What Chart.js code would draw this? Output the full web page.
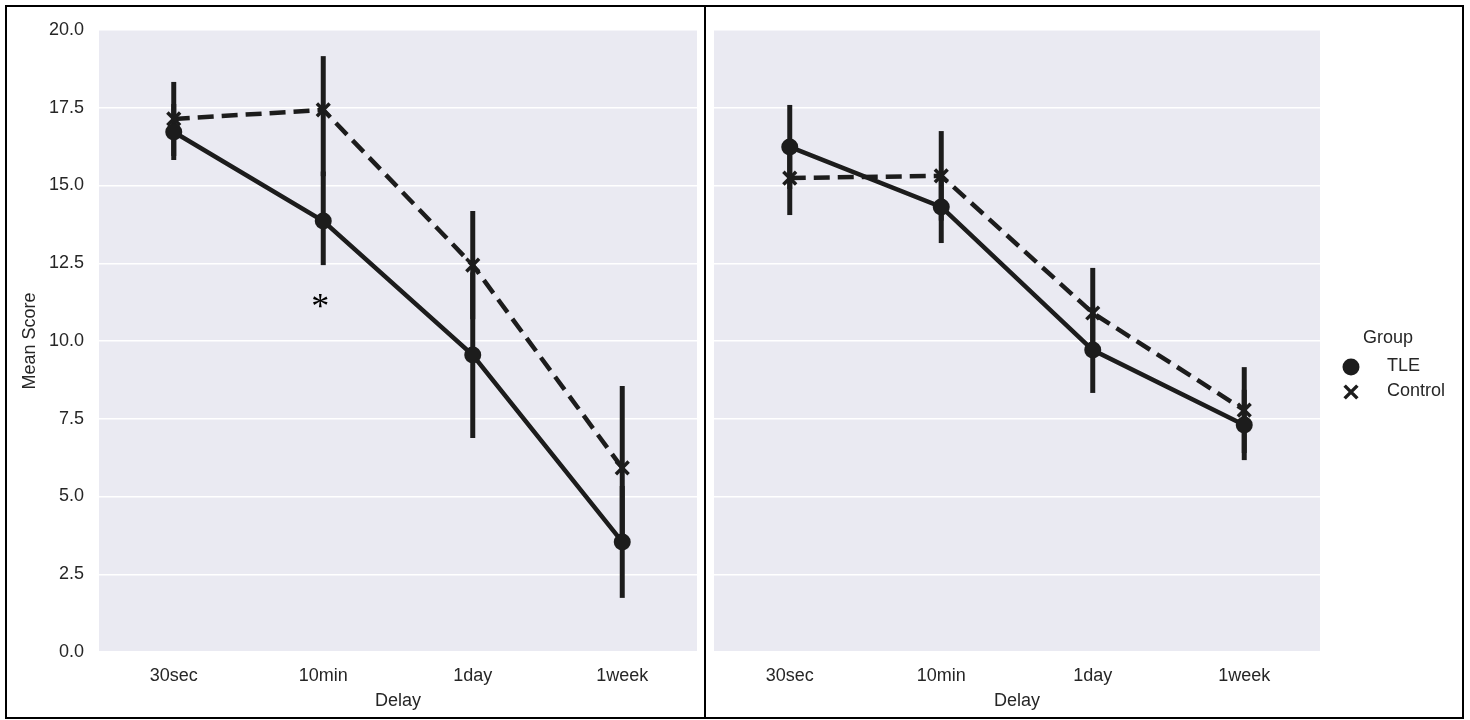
<!DOCTYPE html>
<html>
<head>
<meta charset="utf-8">
<script src="https://cdn.jsdelivr.net/npm/chart.js@4.4.0/dist/chart.umd.min.js"></script>
<style>
  html, body { margin: 0; padding: 0; background: #fff; }
  body { width: 1470px; height: 720px; position: relative; overflow: hidden; }
  #frame { position: absolute; left: 5px; top: 5px; width: 1455px; height: 710px; border: 2px solid #000; }
  #divider { position: absolute; left: 704px; top: 5px; width: 2px; height: 714px; background: #000; }
  #left { position: absolute; left: 8px; top: 8px; width: 696px; height: 708px; }
  #right { position: absolute; left: 707px; top: 8px; width: 754px; height: 708px; }
</style>
</head>
<body>
<div id="frame"></div>
<div id="divider"></div>
<canvas id="left" width="696" height="708"></canvas>
<canvas id="right" width="754" height="708"></canvas>
<script>
// categories and y axis
const delays = ['30sec', '10min', '1day', '1week'];
const yMin = 0, yMax = 20, yStep = 2.5;

// left panel: means and CI ends
const leftTLE      = [16.72, 13.86, 9.55, 3.54];
const leftTLELow   = [15.82, 12.44, 6.88, 1.74];
const leftTLEHigh  = [17.62, 15.45, 12.20, 5.34];
const leftCtrl     = [17.14, 17.43, 12.44, 5.92];
const leftCtrlLow  = [15.95, 15.30, 10.70, 3.29];
const leftCtrlHigh = [18.33, 19.16, 14.18, 8.55];

// right panel
const rightTLE      = [16.24, 14.31, 9.71, 7.30];
const rightTLELow   = [14.89, 13.15, 8.33, 6.17];
const rightTLEHigh  = [17.59, 15.47, 11.09, 8.43];
const rightCtrl     = [15.24, 15.31, 10.90, 7.78];
const rightCtrlLow  = [14.05, 13.87, 9.45, 6.40];
const rightCtrlHigh = [16.43, 16.75, 12.35, 9.16];

const groups = ['TLE', 'Control'];
const starCategory = 1, starValue = 11.3;

const ink = '#1c1c1c';
const txt = '#262626';
const font = 'Liberation Sans, Arial, sans-serif';

const bgPlugin = {
  id: 'bg',
  beforeDraw(chart) {
    const { ctx, chartArea: a } = chart;
    ctx.save();
    ctx.fillStyle = '#EAEAF2';
    ctx.fillRect(a.left, a.top, a.right - a.left, a.bottom - a.top);
    ctx.restore();
  }
};

const errPlugin = {
  id: 'err',
  beforeDatasetsDraw(chart, args, opts) {
    const { ctx, scales: { x, y } } = chart;
    ctx.save();
    ctx.strokeStyle = ink;
    ctx.lineWidth = 5;
    opts.bars.forEach(([lo, hi]) => {
      lo.forEach((v, i) => {
        const px = x.getPixelForValue(i);
        ctx.beginPath();
        ctx.moveTo(px, y.getPixelForValue(v));
        ctx.lineTo(px, y.getPixelForValue(hi[i]));
        ctx.stroke();
      });
    });
    ctx.restore();
  }
};

const starPlugin = {
  id: 'star',
  afterDatasetsDraw(chart) {
    const { ctx, scales: { x, y } } = chart;
    const px = x.getPixelForValue(starCategory) - 3;
    const py = y.getPixelForValue(starValue);
    ctx.save();
    ctx.font = '36px "Liberation Serif", serif';
    ctx.fillStyle = '#000';
    ctx.textAlign = 'center';
    ctx.textBaseline = 'alphabetic';
    const m = ctx.measureText('*');
    ctx.fillText('*', px, py + (m.actualBoundingBoxAscent - m.actualBoundingBoxDescent) / 2);
    ctx.restore();
  }
};

const legendPlugin = {
  id: 'grpLegend',
  afterDraw(chart) {
    const { ctx } = chart;
    ctx.save();
    ctx.fillStyle = txt;
    ctx.font = '18px ' + font;
    ctx.textBaseline = 'middle';
    ctx.textAlign = 'center';
    ctx.fillText('Group', 681, 330);
    ctx.textAlign = 'left';
    ctx.fillText(groups[0], 680, 358);
    ctx.fillText(groups[1], 680, 383);
    ctx.fillStyle = ink;
    ctx.strokeStyle = ink;
    Chart.helpers.drawPoint(ctx, { pointStyle: 'circle', radius: 8.5, borderWidth: 0 }, 644, 359);
    ctx.lineWidth = 3.5;
    Chart.helpers.drawPoint(ctx, { pointStyle: 'crossRot', radius: 9, borderWidth: 3.5 }, 644, 384);
    ctx.restore();
  }
};

function noPad(s) { s.paddingTop = 0; s.paddingBottom = 0; s.paddingLeft = 0; s.paddingRight = 0; }

function makeChart(id, tle, tleLo, tleHi, ctl, ctlLo, ctlHi, isLeft) {
  const plugins = [bgPlugin, errPlugin];
  if (isLeft) plugins.push(starPlugin); else plugins.push(legendPlugin);
  return new Chart(document.getElementById(id), {
    type: 'line',
    data: {
      labels: delays,
      datasets: [
        {
          label: groups[0], data: tle,
          borderColor: ink, borderWidth: 4.5, tension: 0,
          pointStyle: 'circle', pointRadius: 8.5, pointBackgroundColor: ink, pointBorderWidth: 0,
        },
        {
          label: groups[1], data: ctl,
          borderColor: ink, borderWidth: 4.5, borderDash: [16, 8], tension: 0,
          pointStyle: 'crossRot', pointRadius: 9, pointBorderColor: ink, pointBorderWidth: 3.5,
          pointBackgroundColor: ink,
        }
      ]
    },
    options: {
      responsive: false, animation: false,
      layout: {
        autoPadding: false,
        padding: isLeft ? { top: 22, right: 7, left: 0, bottom: 0 } : { top: 22, right: 141, left: 7, bottom: 0 }
      },
      plugins: {
        legend: { display: false },
        tooltip: { enabled: false },
        err: { bars: [[tleLo, tleHi], [ctlLo, ctlHi]] },
      },
      scales: {
        x: {
          offset: true,
          grid: { display: false },
          border: { display: false },
          ticks: { color: txt, font: { family: font, size: 18 }, padding: 5 },
          title: { display: true, text: 'Delay', color: txt, font: { family: font, size: 18 }, padding: { top: 0, bottom: 4 } },
          afterFit: s => { s.height = 64; noPad(s); },
        },
        y: {
          min: yMin, max: yMax,
          grid: { color: '#ffffff', lineWidth: 1.5, drawTicks: false },
          border: { display: false },
          ticks: {
            display: isLeft, stepSize: yStep, color: txt, padding: 15,
            font: { family: font, size: 18 },
            callback: v => v.toFixed(1),
          },
          title: { display: isLeft, text: 'Mean Score', color: txt, font: { family: font, size: 18 }, padding: { top: 11, bottom: 0 } },
          afterFit: s => { s.width = isLeft ? 91 : 0; noPad(s); },
        }
      }
    },
    plugins
  });
}

makeChart('left', leftTLE, leftTLELow, leftTLEHigh, leftCtrl, leftCtrlLow, leftCtrlHigh, true);
makeChart('right', rightTLE, rightTLELow, rightTLEHigh, rightCtrl, rightCtrlLow, rightCtrlHigh, false);
</script>
</body>
</html>
